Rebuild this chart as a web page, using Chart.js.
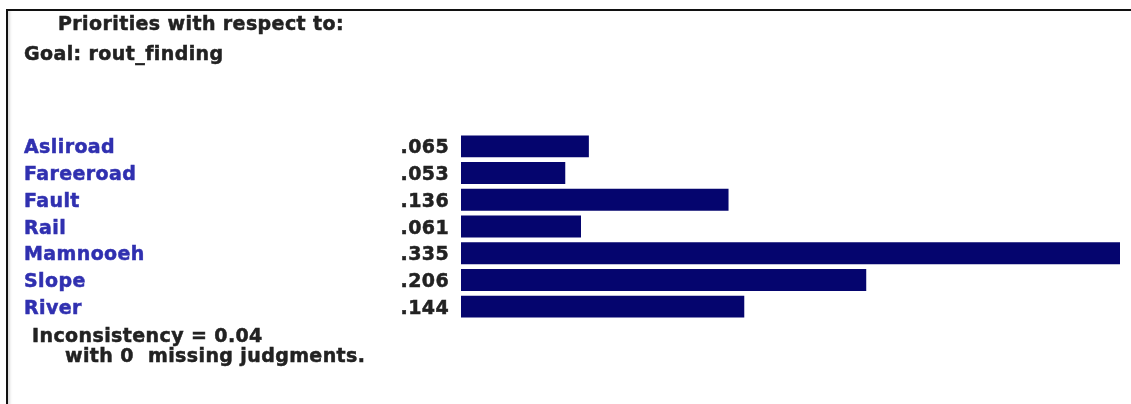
<!DOCTYPE html>
<html>
<head>
<meta charset="utf-8">
<script src="https://cdn.jsdelivr.net/npm/chart.js@4.4.1/dist/chart.umd.min.js"></script>
<style>
    html, body { margin: 0; padding: 0; background: #fff; }
    #wrap { position: relative; width: 1131px; height: 404px; overflow: hidden; }
    #frame {
        position: absolute; left: 6px; top: 9px; right: -4px; bottom: -4px;
        border-top: 2px solid #111; border-left: 2px solid #111;
        box-shadow: inset 4px 0 3px -2px #ddd;
    }
    #chart { position: absolute; left: 0; top: 0; }
</style>
</head>
<body>
<div id="wrap">
    <div id="frame"></div>
    <canvas id="chart" width="1131" height="404"></canvas>
</div>
<script>
// Data
const titleLines = ['Priorities with respect to:', 'Goal: rout_finding'];
const criteria = ['Asliroad', 'Fareeroad', 'Fault', 'Rail', 'Mamnooeh', 'Slope', 'River'];
const priorities = [0.065, 0.053, 0.136, 0.061, 0.335, 0.206, 0.144];
const footerLines = ['Inconsistency = 0.04', 'with 0  missing judgments.'];

const FONT = 'bold 19px "DejaVu Sans", Verdana, sans-serif';

function fmt(v) {
    // ".065" style, no leading zero
    return v.toFixed(3).replace(/^0/, '');
}

// fill + thin stroke so the text looks as heavy as the screenshot
function heavyText(ctx, txt, x, y, color) {
    ctx.fillStyle = color;
    ctx.strokeStyle = color;
    ctx.fillText(txt, x, y);
    ctx.strokeText(txt, x, y);
}

// Draws the headers, the names, the values and the footer around the bars
const textPlugin = {
    id: 'ahpText',
    afterDraw(chart) {
        const ctx = chart.ctx;
        const yScale = chart.scales.y;
        const left = chart.chartArea.left;
        ctx.save();
        ctx.font = FONT;
        ctx.letterSpacing = '0.4px';
        ctx.lineWidth = 0.5;
        ctx.textBaseline = 'alphabetic';

        ctx.textAlign = 'left';
        heavyText(ctx, titleLines[0], 58, 30, '#222');
        heavyText(ctx, titleLines[1], 24, 60, '#222');

        criteria.forEach((name, i) => {
            const y = yScale.getPixelForTick(i) + 7;
            ctx.textAlign = 'left';
            heavyText(ctx, name, 24, y, '#3030b0');
            ctx.textAlign = 'right';
            heavyText(ctx, fmt(priorities[i]), left - 12, y, '#222');
        });

        ctx.textAlign = 'left';
        heavyText(ctx, footerLines[0], 32, 342, '#222');
        heavyText(ctx, footerLines[1], 65, 362, '#222');
        ctx.restore();
    }
};

new Chart(document.getElementById('chart').getContext('2d'), {
    type: 'bar',
    data: {
        labels: criteria,
        datasets: [{
            data: priorities,
            backgroundColor: '#05056e',
            borderWidth: 0,
            categoryPercentage: 0.82,
            barPercentage: 1.0
        }]
    },
    options: {
        indexAxis: 'y',
        responsive: false,
        animation: false,
        devicePixelRatio: 1,
        layout: {
            padding: { left: 461, right: 11, top: 133, bottom: 84 }
        },
        scales: {
            x: {
                display: false,
                min: 0,
                max: Math.max(...priorities)
            },
            y: {
                display: false
            }
        },
        plugins: {
            legend: { display: false },
            tooltip: { enabled: false }
        }
    },
    plugins: [textPlugin]
});
</script>
</body>
</html>
